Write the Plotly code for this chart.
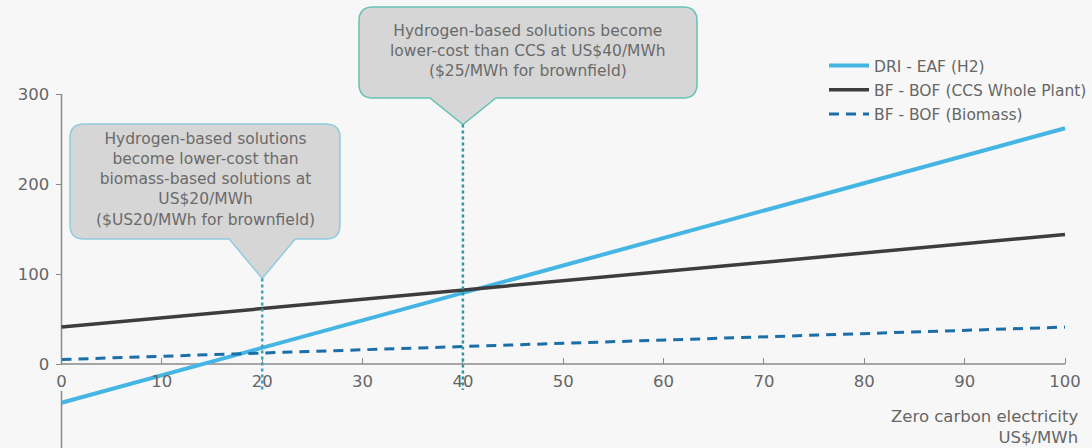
import plotly.graph_objects as go

# ---- data ----
electricity_price = [0, 100]                 # US$/MWh
dri_eaf_h2 = [-43, 262]
bf_bof_ccs = [41, 144]
bf_bof_biomass = [5, 41]
series_names = ["DRI - EAF (H2)", "BF - BOF (CCS Whole Plant)", "BF - BOF (Biomass)"]
x_ticks = [0, 10, 20, 30, 40, 50, 60, 70, 80, 90, 100]
y_ticks = [0, 100, 200, 300]
crossover_x = [20, 40]
crossover_tip = [95, 266]
callout_texts = [
    "Hydrogen-based solutions<br>become lower-cost than<br>biomass-based solutions at<br>US$20/MWh<br>($US20/MWh for brownfield)",
    "Hydrogen-based solutions become<br>lower-cost than CCS at US$40/MWh<br>($25/MWh for brownfield)",
]

# ---- style / layout ----
W, H = 1092, 448
X0PX, XSCALE = 61.5, 10.035     # px of x=0, px per unit
Y0PX, YSCALE = 364.0, 0.9       # px of y=0, px per unit
xr = [-X0PX / XSCALE, (W - X0PX) / XSCALE]
yr = [(Y0PX - H) / YSCALE, Y0PX / YSCALE]
BG = "#f7f7f7"
TXT = "#666666"
AX = "#8a8a8a"
FONT = "DejaVu Sans"

fig = go.Figure()
fig.add_trace(go.Scatter(x=electricity_price, y=dri_eaf_h2, mode="lines", name=series_names[0],
                         line=dict(color="#45b5e3", width=4), legendgroup="a"))
fig.add_trace(go.Scatter(x=electricity_price, y=bf_bof_ccs, mode="lines", name=series_names[1],
                         line=dict(color="#3d3d3d", width=3.5), legendgroup="b"))
fig.add_trace(go.Scatter(x=electricity_price, y=bf_bof_biomass, mode="lines", name=series_names[2],
                         line=dict(color="#1b6fa6", width=3, dash="10px,7px"), legendgroup="c"))

shapes = []
# axis lines
shapes.append(dict(type="line", xref="x", yref="y", x0=0, x1=100, y0=0, y1=0,
                   line=dict(color=AX, width=1.5), layer="below"))
shapes.append(dict(type="line", xref="x", yref="y", x0=0, x1=0, y0=300, y1=0,
                   line=dict(color=AX, width=1.5), layer="below"))
shapes.append(dict(type="line", xref="x", yref="y", x0=0, x1=0, y0=-30, y1=yr[0],
                   line=dict(color=AX, width=1.5), layer="below"))


def px2x(px):
    return (px - X0PX) / XSCALE


def py2y(py):
    return (Y0PX - py) / YSCALE


def xpx(v):
    return X0PX + v * XSCALE


def ypx(v):
    return Y0PX - v * YSCALE


def callout_path(left, right, top, bottom, base_l, base_r, tip_x, tip_y, r=14):
    return (f"M{px2x(left + r)},{py2y(top)} L{px2x(right - r)},{py2y(top)} "
            f"Q{px2x(right)},{py2y(top)} {px2x(right)},{py2y(top + r)} "
            f"L{px2x(right)},{py2y(bottom - r)} "
            f"Q{px2x(right)},{py2y(bottom)} {px2x(right - r)},{py2y(bottom)} "
            f"L{px2x(base_r)},{py2y(bottom)} L{px2x(tip_x)},{py2y(tip_y)} L{px2x(base_l)},{py2y(bottom)} "
            f"L{px2x(left + r)},{py2y(bottom)} "
            f"Q{px2x(left)},{py2y(bottom)} {px2x(left)},{py2y(bottom - r)} "
            f"L{px2x(left)},{py2y(top + r)} "
            f"Q{px2x(left)},{py2y(top)} {px2x(left + r)},{py2y(top)} Z")


boxes = [
    dict(left=70, right=340, top=124, bottom=239, border="#8fcbe0"),
    dict(left=359, right=697, top=7, bottom=98, border="#66c2b4"),
]
dot_colors = ["#3aa3c2", "#2a9a9e"]
for i, (cx, tip, b) in enumerate(zip(crossover_x, crossover_tip, boxes)):
    tx = xpx(cx)
    shapes.append(dict(type="path", xref="x", yref="y",
                       path=callout_path(b["left"], b["right"], b["top"], b["bottom"],
                                         tx - 33, tx + 33, tx, ypx(tip)),
                       fillcolor="#d6d6d6", line=dict(color=b["border"], width=1.5), layer="above"))
    shapes.append(dict(type="line", xref="x", yref="y", x0=cx, x1=cx, y0=tip, y1=-29,
                       line=dict(color=dot_colors[i], width=2.5, dash="dot"), layer="above"))

annotations = []
for b, t in zip(boxes, callout_texts):
    annotations.append(dict(x=px2x((b["left"] + b["right"]) / 2), y=py2y((b["top"] + b["bottom"]) / 2 - 2),
                            xref="x", yref="y", text=t, showarrow=False, align="center",
                            font=dict(family=FONT, size=15.5, color="#6a6a6a")))
annotations.append(dict(x=1080 / W, y=(H - 405) / H, xref="paper", yref="paper", xanchor="right", yanchor="top",
                        text="Zero carbon electricity<br>US$/MWh", showarrow=False, align="right",
                        font=dict(family=FONT, size=16.5, color=TXT)))

fig.update_layout(
    width=W, height=H,
    margin=dict(l=0, r=0, t=0, b=0),
    paper_bgcolor=BG, plot_bgcolor=BG,
    shapes=shapes, annotations=annotations,
    showlegend=True,
    legend=dict(x=824 / W, y=(H - 49) / H, xanchor="left", yanchor="top",
                bgcolor="rgba(0,0,0,0)", font=dict(family=FONT, size=15.5, color=TXT),
                tracegroupgap=1, itemwidth=40),
    xaxis=dict(range=xr, anchor="free", position=(0 - yr[0]) / (yr[1] - yr[0]),
               tickvals=x_ticks, ticks="inside", ticklen=6, tickcolor=AX, tickwidth=1.2,
               ticklabelstandoff=5,
               showgrid=False, zeroline=False, showline=False,
               tickfont=dict(family=FONT, size=16.5, color=TXT)),
    yaxis=dict(range=yr, anchor="free", position=X0PX / W,
               tickvals=y_ticks, ticks="outside", ticklen=6, tickcolor=AX, tickwidth=1.2,
               ticklabelstandoff=3,
               showgrid=False, zeroline=False, showline=False,
               tickfont=dict(family=FONT, size=16.5, color=TXT)),
)

fig.write_html("out.html", config={"displayModeBar": False},
               post_script="document.body.style.margin='0';document.body.style.background='#f7f7f7';"
                           "document.documentElement.style.overflow='hidden';")
